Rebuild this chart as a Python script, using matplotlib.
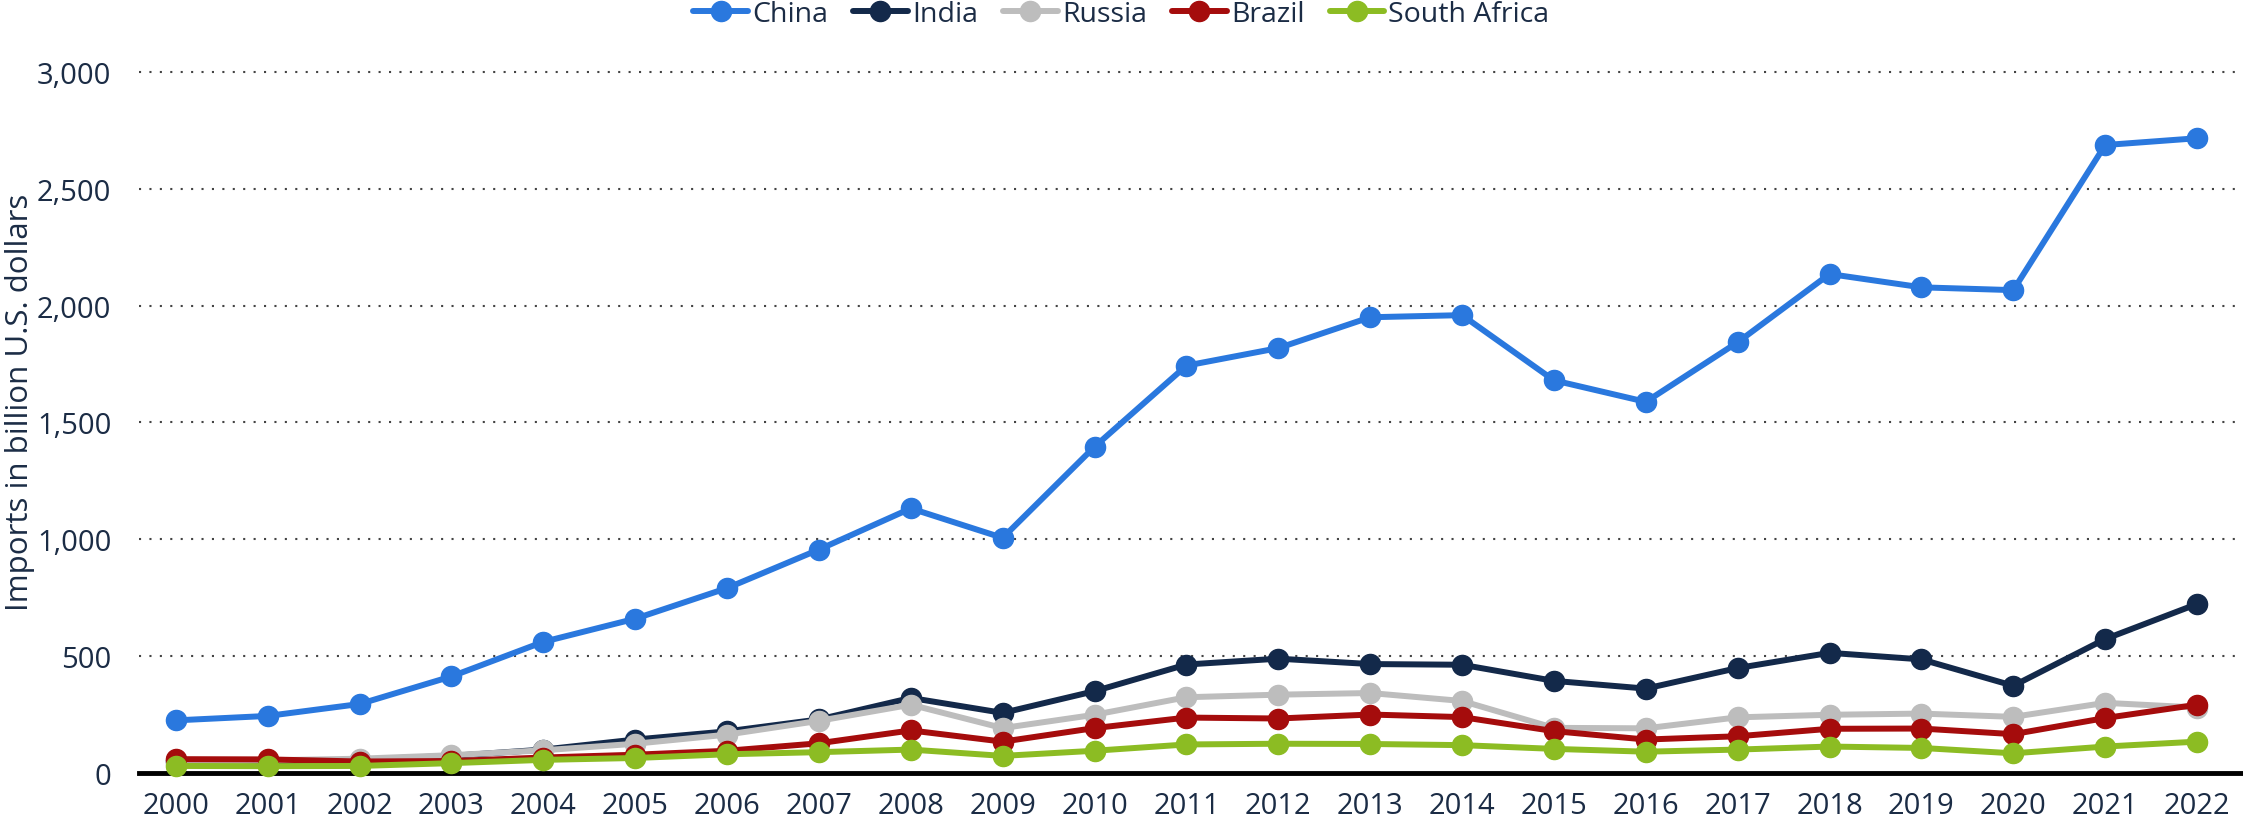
import matplotlib
matplotlib.use("Agg")
import matplotlib.pyplot as plt
from matplotlib.ticker import FuncFormatter

# data (billion U.S. dollars)
years = list(range(2000, 2023))
china = [225, 244, 295, 413, 561, 660, 791, 956, 1132, 1006, 1396, 1743, 1818, 1950,
         1959, 1680, 1588, 1843, 2135, 2078, 2066, 2687, 2716]
india = [52, 50, 57, 73, 100, 143, 178, 229, 321, 257, 350, 464, 489, 466,
         463, 394, 361, 449, 514, 486, 373, 573, 723]
russia = [44, 54, 61, 76, 97, 125, 164, 223, 292, 192, 249, 324, 335, 342,
          308, 193, 191, 238, 249, 254, 240, 300, 280]
brazil = [59, 58, 49, 51, 66, 78, 95, 127, 182, 134, 192, 237, 233, 250,
          239, 179, 143, 157, 189, 190, 166, 235, 292]
south_africa = [30, 29, 30, 42, 56, 64, 80, 89, 100, 73, 95, 122, 125, 124,
                119, 103, 91, 100, 113, 107, 84, 113, 134]

series = [("China", china, "#2a78de"),
          ("India", india, "#13294a"),
          ("Russia", russia, "#bdbdbd"),
          ("Brazil", brazil, "#a50c0c"),
          ("South Africa", south_africa, "#8cbc23")]

text_col = "#1b2c45"
plt.rcParams["font.family"] = ["Open Sans", "DejaVu Sans"]

fig = plt.figure(figsize=(22.43, 8.29), dpi=100)
ax = fig.add_axes([0.062, 0.0664, 0.938, 0.8457])

for name, vals, col in series:
    ax.plot(years, vals, color=col, lw=4.3, marker="o", markersize=14.5,
            label=name, solid_capstyle="round", clip_on=False, zorder=3)

ax.set_xlim(1999.6, 2022.5)
ax.set_ylim(0, 3000)
ax.set_xticks(years)
ax.set_yticks(range(0, 3001, 500))
ax.yaxis.set_major_formatter(FuncFormatter(lambda v, p: f"{int(v):,}"))
ax.tick_params(length=0, labelsize=21, colors=text_col)
ax.tick_params(axis="y", pad=20)
ax.tick_params(axis="x", pad=13)

for v in range(500, 3001, 500):
    ax.axhline(v, color="#444444", lw=1.5, ls=(0, (1, 4)), zorder=1, clip_on=False)
ax.axhline(0, color="black", lw=3.5, zorder=2, clip_on=False)

for s in ax.spines.values():
    s.set_visible(False)

fig.text(0.009, 0.515, "Imports in billion U.S. dollars", rotation=90,
         ha="center", va="center", fontsize=22.5, color=text_col)

leg = fig.legend(loc="center", bbox_to_anchor=(0.5, 0.982), ncol=5, frameon=False,
                 fontsize=20.5, handlelength=1.9, handletextpad=0.15, columnspacing=0.9,
                 labelcolor=text_col)

fig.savefig("out.png", dpi=100)
